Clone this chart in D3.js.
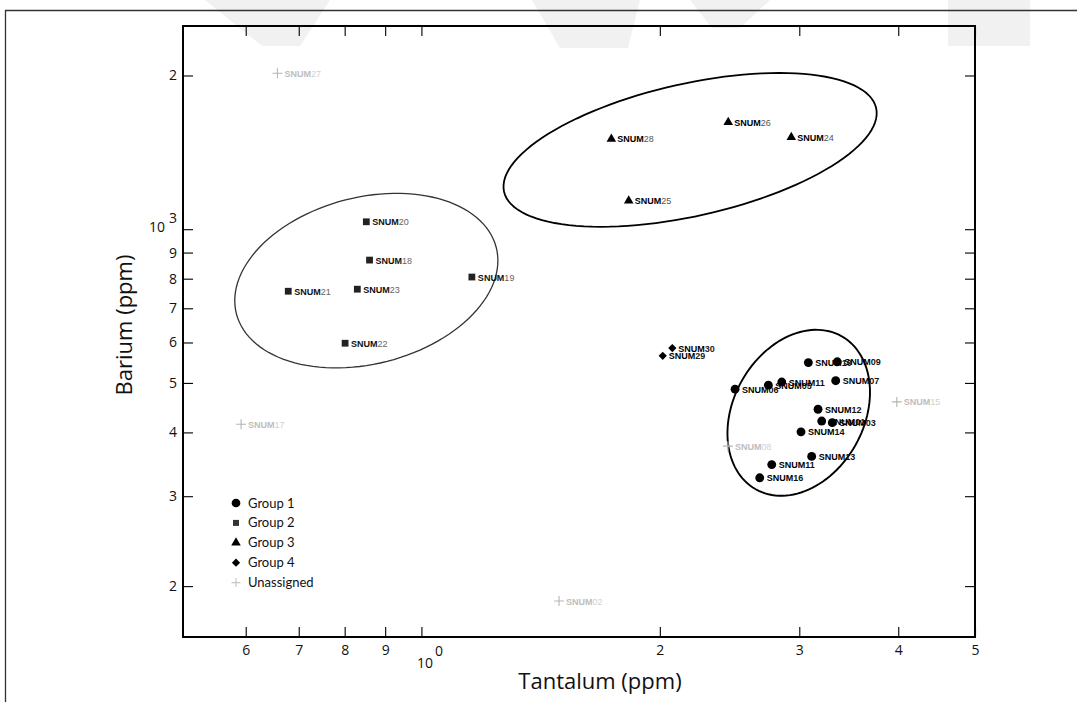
<!DOCTYPE html>
<html>
<head>
<meta charset="utf-8">
<script src="https://cdn.jsdelivr.net/npm/d3@7"></script>
<style>
  html, body { margin: 0; padding: 0; background: #fff; }
  svg { display: block; }
</style>
</head>
<body>
<svg id="chart" width="1077" height="702"></svg>
<script>
// ---------------- DATA ----------------
const group1Names = ["SNUM06", "SNUM05", "SNUM11", "SNUM10", "SNUM09", "SNUM07", "SNUM12", "SNUM01", "SNUM03", "SNUM14", "SNUM13", "SNUM11", "SNUM16"];
const group1Ta    = [2.489, 2.742, 2.851, 3.080, 3.350, 3.335, 3.168, 3.202, 3.302, 3.015, 3.110, 2.769, 2.674];
const group1Ba    = [486, 495, 502, 548, 550, 505, 444, 421, 418, 401, 359, 346, 326];

const group2Names = ["SNUM20", "SNUM18", "SNUM19", "SNUM21", "SNUM23", "SNUM22"];
const group2Ta    = [0.852, 0.860, 1.158, 0.679, 0.830, 0.801];
const group2Ba    = [1034, 870, 806, 756, 763, 598];

const group3Names = ["SNUM28", "SNUM26", "SNUM24", "SNUM25"];
const group3Ta    = [1.737, 2.440, 2.931, 1.827];
const group3Ba    = [1502, 1620, 1514, 1137];

const group4Names = ["SNUM29", "SNUM30"];
const group4Ta    = [2.017, 2.074];
const group4Ba    = [565, 585];

const unassignedNames = ["SNUM27", "SNUM17", "SNUM08", "SNUM15", "SNUM02"];
const unassignedTa    = [0.658, 0.592, 2.438, 3.983, 1.492];
const unassignedBa    = [2020, 415, 376, 459, 187];

// ellipses: centre, end of first semi-axis, end of second semi-axis (data units, log-log space)
const ellipseNames   = ["Group 2", "Group 3", "Group 1"];
const ellipseCenter  = [[0.852, 793], [2.184, 1430], [2.995, 437]];
const ellipseAxisA   = [[1.243, 921], [3.751, 1727], [3.394, 617]];
const ellipseAxisB   = [[0.905, 551], [2.278, 1069], [3.533, 378]];

const xTickValues = [0.6, 0.7, 0.8, 0.9, 1, 2, 3, 4, 5];
const xTickLabels = ["6", "7", "8", "9", "10^0", "2", "3", "4", "5"];
const yTickValues = [200, 300, 400, 500, 600, 700, 800, 900, 1000, 2000];
const yTickLabels = ["2", "3", "4", "5", "6", "7", "8", "9", "10^3", "2"];

const legendLabels = ["Group 1", "Group 2", "Group 3", "Group 4", "Unassigned"];

const xDomain = [0.5, 5];
const yDomain = [159, 2500];

// ---------------- LAYOUT ----------------
const svg = d3.select("#chart");
const L = 183, R = 975, T = 26, B = 637;
const x = d3.scaleLog().domain(xDomain).range([L, R]);
const y = d3.scaleLog().domain(yDomain).range([B, T]);

// faint watermark shapes in the background
const wm = svg.append("g").attr("fill", "#f1f1f1");
wm.append("path").attr("d", "M205,0 L330,0 L300,46 L262,46 Z");
wm.append("path").attr("d", "M532,0 L640,0 L628,48 L560,48 Z");
wm.append("path").attr("d", "M690,0 L770,0 L740,28 L712,28 Z");
wm.append("path").attr("d", "M948,0 L1030,0 L1030,46 L948,46 Z");

// outer figure border (top & left)
svg.append("path").attr("d", "M5.5,702 L5.5,10.5 L1077,10.5")
  .attr("fill", "none").attr("stroke", "#333").attr("stroke-width", 1.3);

const tickFont = "'Open Sans', 'Lato', sans-serif";

// bottom axis
const gx = svg.append("g").attr("transform", `translate(0,${B})`)
  .call(d3.axisBottom(x).tickValues(xTickValues)
    .tickFormat((d, i) => xTickLabels[i]).tickSize(-10).tickPadding(8));
// left axis
const gy = svg.append("g").attr("transform", `translate(${L},0)`)
  .call(d3.axisLeft(y).tickValues(yTickValues)
    .tickFormat((d, i) => yTickLabels[i]).tickSize(-10).tickPadding(6));
// top & right mirrored ticks
const gt = svg.append("g").attr("transform", `translate(0,${T})`)
  .call(d3.axisTop(x).tickValues(xTickValues).tickFormat("").tickSize(-10));
const gr = svg.append("g").attr("transform", `translate(${R},0)`)
  .call(d3.axisRight(y).tickValues(yTickValues).tickFormat("").tickSize(-10));

[gx, gy, gt, gr].forEach(g => {
  g.select(".domain").remove();
  g.selectAll(".tick line").attr("stroke", "#000").attr("stroke-width", 1.1);
  g.selectAll("text").attr("font-family", tickFont).attr("font-size", 14).attr("fill", "#111");
});

// superscript labels
gx.selectAll(".tick text").each(function(d, i) {
  const lab = xTickLabels[i];
  if (lab.includes("^")) {
    const [base, exp] = lab.split("^");
    const t = d3.select(this).text("").attr("x", 8);
    t.append("tspan").attr("dy", "1.65em").text(base);
    t.append("tspan").attr("dy", "-0.9em").attr("dx", 2).text(exp);
  }
});
gy.selectAll(".tick text").each(function(d, i) {
  const lab = yTickLabels[i];
  if (lab.includes("^")) {
    const [base, exp] = lab.split("^");
    const t = d3.select(this).text("");
    t.append("tspan").attr("dy", "0.15em").text(base);
    t.append("tspan").attr("dy", "-0.65em").attr("dx", 4).text(exp);
  }
});

// frame
svg.append("rect").attr("x", L).attr("y", T).attr("width", R - L).attr("height", B - T)
  .attr("fill", "none").attr("stroke", "#000").attr("stroke-width", 2);

// axis titles
svg.append("text").attr("x", (L + R) / 2 + 21).attr("y", 689)
  .attr("text-anchor", "middle").attr("font-family", tickFont).attr("font-size", 22)
  .attr("fill", "#111").text("Tantalum (ppm)");
svg.append("text").attr("transform", `translate(132,${(250 + 400) / 2}) rotate(-90)`)
  .attr("text-anchor", "middle").attr("font-family", tickFont).attr("font-size", 22)
  .attr("fill", "#111").text("Barium (ppm)");

// ellipses
const ellipseStroke = [1.3, 1.8, 1.9];
const ellipseColor = ["#333", "#000", "#000"];
ellipseNames.forEach((nm, i) => {
  const c = [x(ellipseCenter[i][0]), y(ellipseCenter[i][1])];
  const a = [x(ellipseAxisA[i][0]) - c[0], y(ellipseAxisA[i][1]) - c[1]];
  const b = [x(ellipseAxisB[i][0]) - c[0], y(ellipseAxisB[i][1]) - c[1]];
  const pts = d3.range(0, 361, 3).map(deg => {
    const t = deg * Math.PI / 180;
    return [c[0] + Math.cos(t) * a[0] + Math.sin(t) * b[0],
            c[1] + Math.cos(t) * a[1] + Math.sin(t) * b[1]];
  });
  svg.append("path").attr("d", d3.line().curve(d3.curveLinearClosed)(pts))
    .attr("fill", "none").attr("stroke", ellipseColor[i]).attr("stroke-width", ellipseStroke[i]);
});

// ---------------- POINTS ----------------
const labelFont = "'Liberation Sans', Arial, sans-serif";
const plusPath = s => `M${-s},0 L${s},0 M0,${-s} L0,${s}`;

function drawGroup(names, ta, ba, opts) {
  const g = svg.append("g");
  names.forEach((nm, i) => {
    const px = x(ta[i]), py = y(ba[i]);
    const gg = g.append("g").attr("transform", `translate(${px},${py})`);
    if (opts.type === "plus") {
      gg.append("path").attr("d", plusPath(5)).attr("stroke", opts.color)
        .attr("stroke-width", 1.1).attr("fill", "none");
    } else {
      gg.append("path").attr("d", opts.symbol()).attr("fill", opts.color)
        .attr("transform", opts.rotate ? `rotate(${opts.rotate})` : null);
    }
    const t = gg.append("text").attr("x", opts.dx).attr("y", 3.5)
      .attr("font-family", labelFont).attr("font-size", 9);
    t.append("tspan").attr("font-weight", "bold").attr("fill", opts.labelColor).text(nm.slice(0, 4));
    t.append("tspan").attr("font-weight", opts.numWeight).attr("fill", opts.numColor).text(nm.slice(4));
  });
}

drawGroup(unassignedNames, unassignedTa, unassignedBa,
  { type: "plus", color: "#b5b5b5", dx: 7, labelColor: "#bdbdbd", numColor: "#d0d0d0", numWeight: "normal" });
drawGroup(group2Names, group2Ta, group2Ba,
  { symbol: d3.symbol(d3.symbolSquare, 46), color: "#222", dx: 6, labelColor: "#111", numColor: "#666", numWeight: "normal" });
drawGroup(group3Names, group3Ta, group3Ba,
  { symbol: d3.symbol(d3.symbolTriangle, 40), color: "#000", dx: 6, labelColor: "#000", numColor: "#555", numWeight: "normal" });
drawGroup(group4Names, group4Ta, group4Ba,
  { symbol: d3.symbol(d3.symbolSquare, 34), rotate: 45, color: "#000", dx: 6, labelColor: "#000", numColor: "#222", numWeight: "bold" });
drawGroup(group1Names, group1Ta, group1Ba,
  { symbol: d3.symbol(d3.symbolCircle, 62), color: "#000", dx: 7, labelColor: "#000", numColor: "#111", numWeight: "bold" });

// ---------------- LEGEND ----------------
const leg = svg.append("g").attr("transform", "translate(236,503)");
const legSymbols = [
  g => g.append("path").attr("d", d3.symbol(d3.symbolCircle, 60)()).attr("fill", "#000"),
  g => g.append("path").attr("d", d3.symbol(d3.symbolSquare, 36)()).attr("fill", "#333"),
  g => g.append("path").attr("d", d3.symbol(d3.symbolTriangle, 40)()).attr("fill", "#000"),
  g => g.append("path").attr("d", d3.symbol(d3.symbolSquare, 34)()).attr("transform", "rotate(45)").attr("fill", "#000"),
  g => g.append("path").attr("d", plusPath(4.5)).attr("stroke", "#c4c4c4").attr("stroke-width", 1.1)
];
legendLabels.forEach((lab, i) => {
  const g = leg.append("g").attr("transform", `translate(0,${i * 19.9})`);
  legSymbols[i](g);
  g.append("text").attr("x", 12).attr("y", 4.5).attr("font-family", "'Lato', 'Open Sans', sans-serif")
    .attr("font-size", 13).attr("fill", "#111").text(lab);
});
</script>
</body>
</html>
